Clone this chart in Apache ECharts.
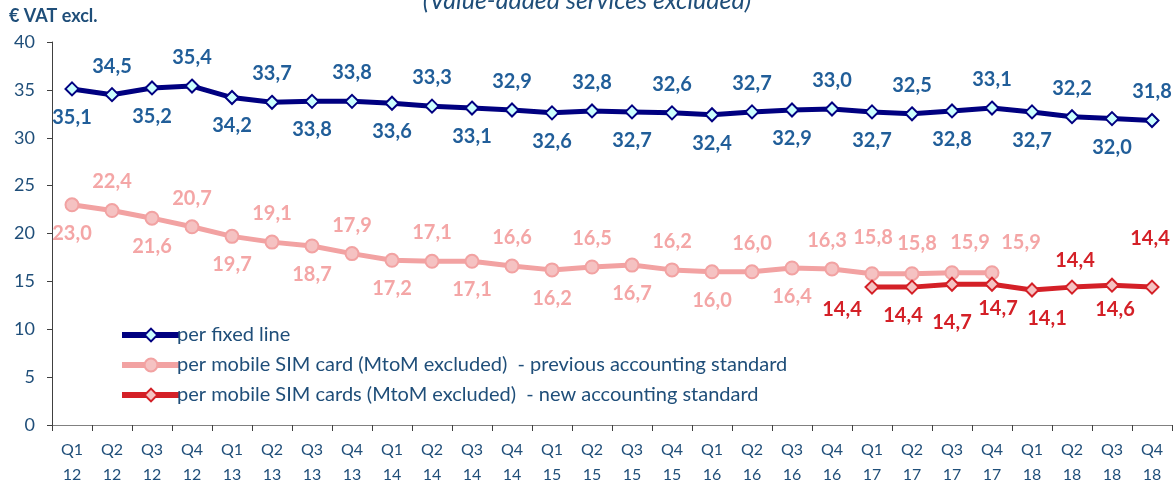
<!DOCTYPE html>
<html>
<head>
<meta charset="utf-8">
<script src="https://cdn.jsdelivr.net/npm/echarts@6/dist/echarts.min.js"></script>
<style>
html, body { margin: 0; padding: 0; background: #fff; }
#chart { width: 1176px; height: 487px; }
</style>
</head>
<body>
<div id="chart"></div>
<script>
var quarters = ['Q1\n12','Q2\n12','Q3\n12','Q4\n12','Q1\n13','Q2\n13','Q3\n13','Q4\n13',
    'Q1\n14','Q2\n14','Q3\n14','Q4\n14','Q1\n15','Q2\n15','Q3\n15','Q4\n15',
    'Q1\n16','Q2\n16','Q3\n16','Q4\n16','Q1\n17','Q2\n17','Q3\n17','Q4\n17',
    'Q1\n18','Q2\n18','Q3\n18','Q4\n18'];
var fixedLine = [35.1,34.5,35.2,35.4,34.2,33.7,33.8,33.8,33.6,33.3,33.1,32.9,32.6,32.8,
    32.7,32.6,32.4,32.7,32.9,33.0,32.7,32.5,32.8,33.1,32.7,32.2,32.0,31.8];
var mobileOld = [23.0,22.4,21.6,20.7,19.7,19.1,18.7,17.9,17.2,17.1,17.1,16.6,16.2,16.5,
    16.7,16.2,16.0,16.0,16.4,16.3,15.8,15.8,15.9,15.9,null,null,null,null];
var mobileNew = [null,null,null,null,null,null,null,null,null,null,null,null,null,null,
    null,null,null,null,null,null,14.4,14.4,14.7,14.7,14.1,14.4,14.6,14.4];
var yTicks = [0,5,10,15,20,25,30,35,40];

// label placement tweaks (index -> [position, dx, dy])
var oldLabelTweak = {19: ['top', -5, 0], 20: ['top', 1, -8], 21: ['top', 5, -2], 22: ['top', 18, -2], 23: ['top', 29, -2]};
var newLabelTweak = {20: ['bottom', -30, -6], 21: ['bottom', -9, 0], 22: ['bottom', 0, 10],
    23: ['bottom', 6, -4], 24: ['bottom', 15, 0], 25: ['top', 3, 2], 26: ['bottom', 3, -4], 27: ['top', -2, -20]};

function fmt(v) { return v.toFixed(1).replace('.', ','); }

function buildData(values, tweak) {
    return values.map(function (v, i) {
        if (v == null) return null;
        var pos = i % 2 === 0 ? 'bottom' : 'top';
        var off = [0, 0];
        if (tweak && tweak[i]) { pos = tweak[i][0]; off = [tweak[i][1], tweak[i][2]]; }
        return { value: v, label: { position: pos, offset: off } };
    });
}

var chart = echarts.init(document.getElementById('chart'));
chart.setOption({
    animation: false,
    textStyle: { fontFamily: 'Lato, "Open Sans", sans-serif' },
    title: [{
        text: '(Value-added services excluded)',
        left: 582, textAlign: 'center', top: -17,
        textStyle: { fontSize: 25, fontStyle: 'italic', fontWeight: 'normal', color: '#1f4e79' }
    }, {
        text: '€ VAT excl.',
        left: 4, top: 2,
        textStyle: { fontSize: 18, fontWeight: 'bold', color: '#1f4e79' }
    }],
    grid: { left: 52, right: 4, top: 42, bottom: 58 },
    legend: {
        orient: 'vertical', left: 114, top: 320, itemGap: 10,
        itemWidth: 58, itemHeight: 16,
        lineStyle: { width: 6 },
        textStyle: { fontSize: 20, color: '#1f4e79', padding: [0, 0, 0, -8] },
        data: ['per fixed line',
            'per mobile SIM card (MtoM excluded)  - previous accounting standard',
            'per mobile SIM cards (MtoM excluded)  - new accounting standard']
    },
    xAxis: {
        type: 'category', data: quarters, boundaryGap: true,
        axisLine: { lineStyle: { color: '#808080', width: 1 } },
        axisTick: { show: true, length: 6, lineStyle: { color: '#404040' } },
        axisLabel: { color: '#1f4e79', fontSize: 16, lineHeight: 25, margin: 12, interval: 0 }
    },
    yAxis: {
        type: 'value', min: yTicks[0], max: yTicks[yTicks.length - 1], interval: 5,
        splitLine: { show: false },
        axisLine: { show: true, lineStyle: { color: '#404040', width: 1 } },
        axisTick: { show: true, length: 5, lineStyle: { color: '#404040' } },
        axisLabel: { color: '#1f4e79', fontSize: 18, margin: 17 }
    },
    series: [{
        name: 'per fixed line',
        type: 'line', data: buildData(fixedLine),
        symbol: 'diamond', symbolSize: 13,
        lineStyle: { color: '#000080', width: 5 },
        itemStyle: { color: '#ccffff', borderColor: '#000080', borderWidth: 2 },
        label: { show: true, distance: 11, fontSize: 20, fontWeight: 'bold', color: '#215e99',
            formatter: function (p) { return fmt(p.value); } },
        z: 3
    }, {
        name: 'per mobile SIM card (MtoM excluded)  - previous accounting standard',
        type: 'line', data: buildData(mobileOld, oldLabelTweak),
        symbol: 'circle', symbolSize: 13,
        lineStyle: { color: '#f2a2a2', width: 5 },
        itemStyle: { color: '#f5c2c2', borderColor: '#f2a2a2', borderWidth: 2 },
        label: { show: true, distance: 11, fontSize: 20, fontWeight: 'bold', color: '#f4a6a6',
            formatter: function (p) { return fmt(p.value); } },
        z: 2
    }, {
        name: 'per mobile SIM cards (MtoM excluded)  - new accounting standard',
        type: 'line', data: buildData(mobileNew, newLabelTweak),
        symbol: 'diamond', symbolSize: 13,
        lineStyle: { color: '#d42027', width: 5 },
        itemStyle: { color: '#f5c2c2', borderColor: '#d42027', borderWidth: 2 },
        label: { show: true, distance: 11, fontSize: 20, fontWeight: 'bold', color: '#d42027',
            formatter: function (p) { return fmt(p.value); } },
        z: 4
    }]
});
</script>
</body>
</html>
